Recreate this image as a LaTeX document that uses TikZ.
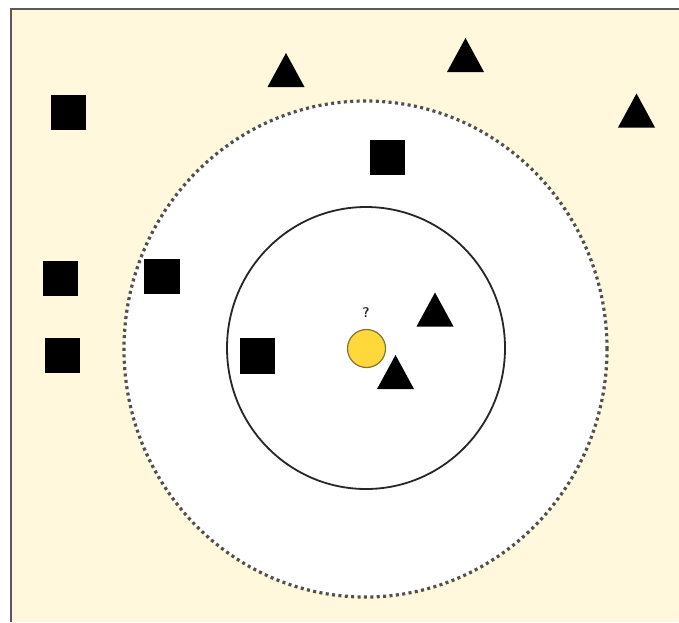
\documentclass[tikz,border=0pt]{standalone}
\usetikzlibrary{shapes.geometric}
\definecolor{cream}{RGB}{255,248,220}
\definecolor{ptyellow}{RGB}{255,216,60}
\definecolor{ptedge}{RGB}{130,115,50}
\definecolor{dotgray}{RGB}{80,80,80}
\begin{document}
\begin{tikzpicture}[x=1pt,y=-1pt,
  sq/.style={rectangle,fill=black,minimum width=35.5pt,minimum height=35.5pt,inner sep=0pt},
  tri/.pic={\fill[black] (-18.5,17) -- (18.5,17) -- (0,-17) -- cycle;},
  query/.style={circle,fill=ptyellow,draw=ptedge,line width=1.2pt,minimum size=38pt,inner sep=0pt},
  outerring/.style={draw=dotgray,fill=white,line width=3.2pt,dash pattern=on 3pt off 3.4pt},
  innerring/.style={draw=black!85,line width=1.8pt},
  frameline/.style={draw=gray!70!black,line width=2pt}]
\useasboundingbox (0,0) rectangle (679,622);
\fill[white] (0,0) rectangle (679,622);
\fill[cream] (10,8) rectangle (679,622);
\draw[frameline] (10.5,622) -- (10.5,8.5) -- (679,8.5);
% outer (dotted) neighbourhood
\draw[outerring] (365.5,349) ellipse [x radius=241.5pt, y radius=248pt];
% inner neighbourhood
\draw[innerring] (366,348) ellipse [x radius=139pt, y radius=141pt];
% squares
\node[sq] (s1) at (68.5,112.5) {};
\node[sq] (s2) at (387.5,157.5) {};
\node[sq] (s3) at (60.5,278.5) {};
\node[sq] (s4) at (162,276.5) {};
\node[sq] (s5) at (62.5,355.5) {};
\node[sq] (s6) at (257.5,356) {};
% triangles
\pic at (286,70) {tri};
\pic at (465.5,55) {tri};
\pic at (636.5,110.5) {tri};
\pic at (435,309.5) {tri};
\pic at (395.5,372) {tri};
% query point
\node[query] (q) at (366.5,348.5) {};
\node[font=\sffamily\bfseries\fontsize{14}{16}\selectfont,text=black!85,inner sep=0pt] (qm) at (366,313) {?};
\end{tikzpicture}
\end{document}
